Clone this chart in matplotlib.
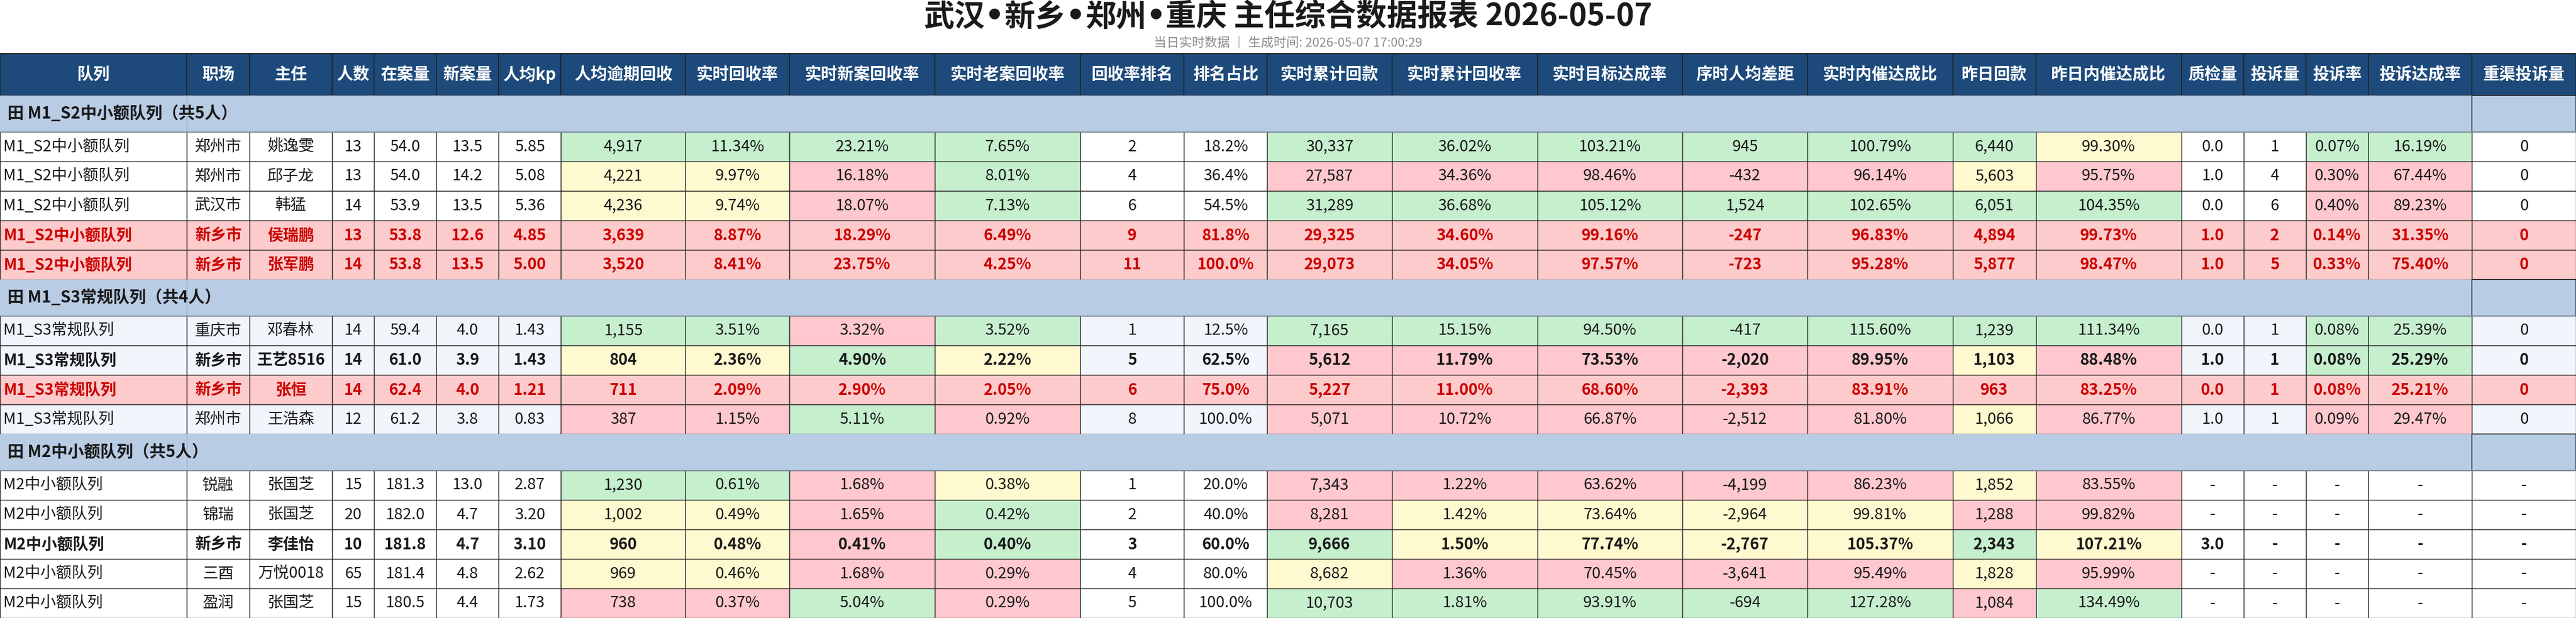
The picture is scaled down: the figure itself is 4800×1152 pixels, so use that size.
import numpy as np
import matplotlib.pyplot as plt
from matplotlib.patches import Rectangle

plt.rcParams['font.family'] = ['Noto Sans CJK SC', 'DejaVu Sans']

title_parts = ['武汉', '新乡', '郑州', '重庆 主任综合数据报表 2026-05-07']
subtitle = '当日实时数据 ｜ 生成时间: 2026-05-07 17:00:29'

headers = ['队列', '职场', '主任', '人数', '在案量', '新案量', '人均kp', '人均逾期回收',
           '实时回收率', '实时新案回收率', '实时老案回收率', '回收率排名', '排名占比',
           '实时累计回款', '实时累计回收率', '实时目标达成率', '序时人均差距', '实时内催达成比',
           '昨日回款', '昨日内催达成比', '质检量', '投诉量', '投诉率', '投诉达成率', '重渠投诉量']

group_names = ['M1_S2中小额队列', 'M1_S3常规队列', 'M2中小额队列']
group_sizes = [5, 4, 5]

site = ['郑州市', '郑州市', '武汉市', '新乡市', '新乡市',
        '重庆市', '新乡市', '新乡市', '郑州市',
        '锐融', '锦瑞', '新乡市', '三酉', '盈润']
manager = ['姚逸雯', '邱子龙', '韩猛', '侯瑞鹏', '张军鹏',
           '邓春林', '王艺8516', '张恒', '王浩森',
           '张国芝', '张国芝', '李佳怡', '万悦0018', '张国芝']
headcount = [13, 13, 14, 13, 14, 14, 14, 14, 12, 15, 20, 10, 65, 15]
cases = [54.0, 54.0, 53.9, 53.8, 53.8, 59.4, 61.0, 62.4, 61.2, 181.3, 182.0, 181.8, 181.4, 180.5]
new_cases = [13.5, 14.2, 13.5, 12.6, 13.5, 4.0, 3.9, 4.0, 3.8, 13.0, 4.7, 4.7, 4.8, 4.4]
kp = [5.85, 5.08, 5.36, 4.85, 5.00, 1.43, 1.43, 1.21, 0.83, 2.87, 3.20, 3.10, 2.62, 1.73]
overdue_pc = [4917, 4221, 4236, 3639, 3520, 1155, 804, 711, 387, 1230, 1002, 960, 969, 738]
rate = [11.34, 9.97, 9.74, 8.87, 8.41, 3.51, 2.36, 2.09, 1.15, 0.61, 0.49, 0.48, 0.46, 0.37]
new_rate = [23.21, 16.18, 18.07, 18.29, 23.75, 3.32, 4.90, 2.90, 5.11, 1.68, 1.65, 0.41, 1.68, 5.04]
old_rate = [7.65, 8.01, 7.13, 6.49, 4.25, 3.52, 2.22, 2.05, 0.92, 0.38, 0.42, 0.40, 0.29, 0.29]
rank = [2, 4, 6, 9, 11, 1, 5, 6, 8, 1, 2, 3, 4, 5]
rank_share = [18.2, 36.4, 54.5, 81.8, 100.0, 12.5, 62.5, 75.0, 100.0, 20.0, 40.0, 60.0, 80.0, 100.0]
cum_pay = [30337, 27587, 31289, 29325, 29073, 7165, 5612, 5227, 5071, 7343, 8281, 9666, 8682, 10703]
cum_rate = [36.02, 34.36, 36.68, 34.60, 34.05, 15.15, 11.79, 11.00, 10.72, 1.22, 1.42, 1.50, 1.36, 1.81]
target_rate = [103.21, 98.46, 105.12, 99.16, 97.57, 94.50, 73.53, 68.60, 66.87, 63.62, 73.64, 77.74, 70.45, 93.91]
gap_pc = [945, -432, 1524, -247, -723, -417, -2020, -2393, -2512, -4199, -2964, -2767, -3641, -694]
inner_ratio = [100.79, 96.14, 102.65, 96.83, 95.28, 115.60, 89.95, 83.91, 81.80, 86.23, 99.81, 105.37, 95.49, 127.28]
yday_pay = [6440, 5603, 6051, 4894, 5877, 1239, 1103, 963, 1066, 1852, 1288, 2343, 1828, 1084]
yday_ratio = [99.30, 95.75, 104.35, 99.73, 98.47, 111.34, 88.48, 83.25, 86.77, 83.55, 99.82, 107.21, 95.99, 134.49]
qc = [0.0, 1.0, 0.0, 1.0, 1.0, 0.0, 1.0, 0.0, 1.0, None, None, 3.0, None, None]
complaints = [1, 4, 6, 2, 5, 1, 1, 1, 1, None, None, None, None, None]
complaint_rate = [0.07, 0.30, 0.40, 0.14, 0.33, 0.08, 0.08, 0.08, 0.09, None, None, None, None, None]
complaint_goal = [16.19, 67.44, 89.23, 31.35, 75.40, 25.39, 25.29, 25.21, 29.47, None, None, None, None, None]
heavy_complaints = [0, 0, 0, 0, 0, 0, 0, 0, 0, None, None, None, None, None]

# row emphasis: red = flagged, bold = highlighted
row_flag = ['', '', '', 'red', 'red', '', 'bold', 'red', '', '', '', 'bold', '', '']

# rating per row for the rated columns (G good, Y mid, P poor)
rated_cols = [7, 8, 9, 10, 13, 14, 15, 16, 17, 18, 19, 22, 23]
rating_rows = ['GGGGGGGGGGYGG', 'YYPGPPPPPYPPP', 'YYPGGGGGGGGPP', 'PPPPPPPPPPPPP', 'PPPPPPPPPPPPP',
               'GGPGGGGGGGGGG', 'YYGYPPPPPYPGG', 'PPPPPPPPPPPPP', 'PPGPPPPPPYPPP',
               'GGPYPPPPPYP..', 'YYPGPYYYYPP..', 'YYPGGYYYYGY..', 'YYPPYPPPPYP..', 'PPGPGGGGGPG..']

teams = [g for g, n in zip(group_names, group_sizes) for _ in range(n)]
columns = [teams, site, manager, headcount, cases, new_cases, kp, overdue_pc, rate, new_rate,
           old_rate, rank, rank_share, cum_pay, cum_rate, target_rate, gap_pc, inner_ratio,
           yday_pay, yday_ratio, qc, complaints, complaint_rate, complaint_goal, heavy_complaints]

pct2 = '{:.2f}%'.format
fmts = [str, str, str, str, '{:.1f}'.format, '{:.1f}'.format, '{:.2f}'.format, '{:,}'.format,
        pct2, pct2, pct2, str, '{:.1f}%'.format, '{:,}'.format, pct2, pct2, '{:,}'.format, pct2,
        '{:,}'.format, pct2, '{:.1f}'.format, str, pct2, pct2, str]

# layout
W, H = 4800, 1152
col_units = [9, 3, 4, 2, 3, 3, 3, 6, 5, 7, 7, 5, 4, 6, 7, 7, 6, 7, 4, 7, 3, 3, 3, 5, 5]
edges = np.concatenate([[0], np.cumsum(col_units)]) * W / sum(col_units)
top, head_h, group_h, row_h = 100, 78, 68, 55

HEAD_BG = '#1d4a7b'
GROUP_BG = '#b8cce4'
GROUP_BASE = ['white', '#f1f5fc', 'white']
FLAG_BG = '#fdcbcb'
RATE_BG = {'G': '#c6efce', 'Y': '#fff9cf', 'P': '#ffc7ce'}
LINE = '#222222'

fig = plt.figure(figsize=(W / 100, H / 100), dpi=100)
ax = fig.add_axes([0, 0, 1, 1])
ax.set_xlim(0, W)
ax.set_ylim(H, 0)
ax.axis('off')

# title: CJK pieces joined by narrow latin bullets, centred as a whole
renderer = fig.canvas.get_renderer()
pieces = []
for i, part in enumerate(title_parts):
    if i:
        pieces.append(ax.text(0, 32, '•', family='DejaVu Sans', ha='left', va='center',
                              fontsize=41, fontweight='bold', color='#1a1a1a'))
    pieces.append(ax.text(0, 32, part, ha='left', va='center',
                          fontsize=41, fontweight='bold', color='#1a1a1a'))
widths = [t.get_window_extent(renderer).width for t in pieces]
x = W / 2 - sum(widths) / 2
for t, w in zip(pieces, widths):
    t.set_x(x)
    x += w

ax.text(W / 2, 80, subtitle, ha='center', va='center', fontsize=17, color='#8c8c8c')

y = top
for c, name in enumerate(headers):
    ax.add_patch(Rectangle((edges[c], y), edges[c + 1] - edges[c], head_h,
                           facecolor=HEAD_BG, edgecolor=LINE, lw=1.2))
    ax.text((edges[c] + edges[c + 1]) / 2, y + head_h / 2, name, ha='center', va='center',
            fontsize=22, fontweight='bold', color='white')
ax.plot([0, W], [y, y], color='#111111', lw=1.6)
y += head_h

r = 0
for g, (gname, gsize) in enumerate(zip(group_names, group_sizes)):
    ax.add_patch(Rectangle((0, y), edges[-2], group_h, facecolor=GROUP_BG, edgecolor='none'))
    ax.add_patch(Rectangle((edges[-2], y), edges[-1] - edges[-2], group_h,
                           facecolor=GROUP_BG, edgecolor=LINE, lw=1.2))
    ax.plot([edges[1], edges[1]], [y, y + group_h], color='#93acc9', lw=1)
    ax.plot([0, W], [y + group_h, y + group_h], color='#8a9bb0', lw=1.2)
    ax.text(14, y + group_h / 2, '田 %s（共%d人）' % (gname, gsize), ha='left', va='center',
            fontsize=22, fontweight='bold', color='#1a1a1a')
    y += group_h
    for _ in range(gsize):
        flag = row_flag[r]
        base = FLAG_BG if flag == 'red' else GROUP_BASE[g]
        color = '#cc0000' if flag == 'red' else '#1a1a1a'
        weight = 'bold' if flag else 'normal'
        for c in range(len(headers)):
            fc = base
            if flag != 'red' and c in rated_cols:
                code = rating_rows[r][rated_cols.index(c)]
                fc = RATE_BG.get(code, base)
            ax.add_patch(Rectangle((edges[c], y), edges[c + 1] - edges[c], row_h,
                                   facecolor=fc, edgecolor=LINE, lw=1.0))
            v = columns[c][r]
            s = '-' if v is None else fmts[c](v)
            if c == 0:
                ax.text(edges[c] + 6, y + row_h / 2, s, ha='left', va='center',
                        fontsize=21, fontweight=weight, color=color)
            else:
                ax.text((edges[c] + edges[c + 1]) / 2, y + row_h / 2, s, ha='center',
                        va='center', fontsize=21, fontweight=weight, color=color)
        y += row_h
        r += 1

fig.savefig('out.png', dpi=100)
